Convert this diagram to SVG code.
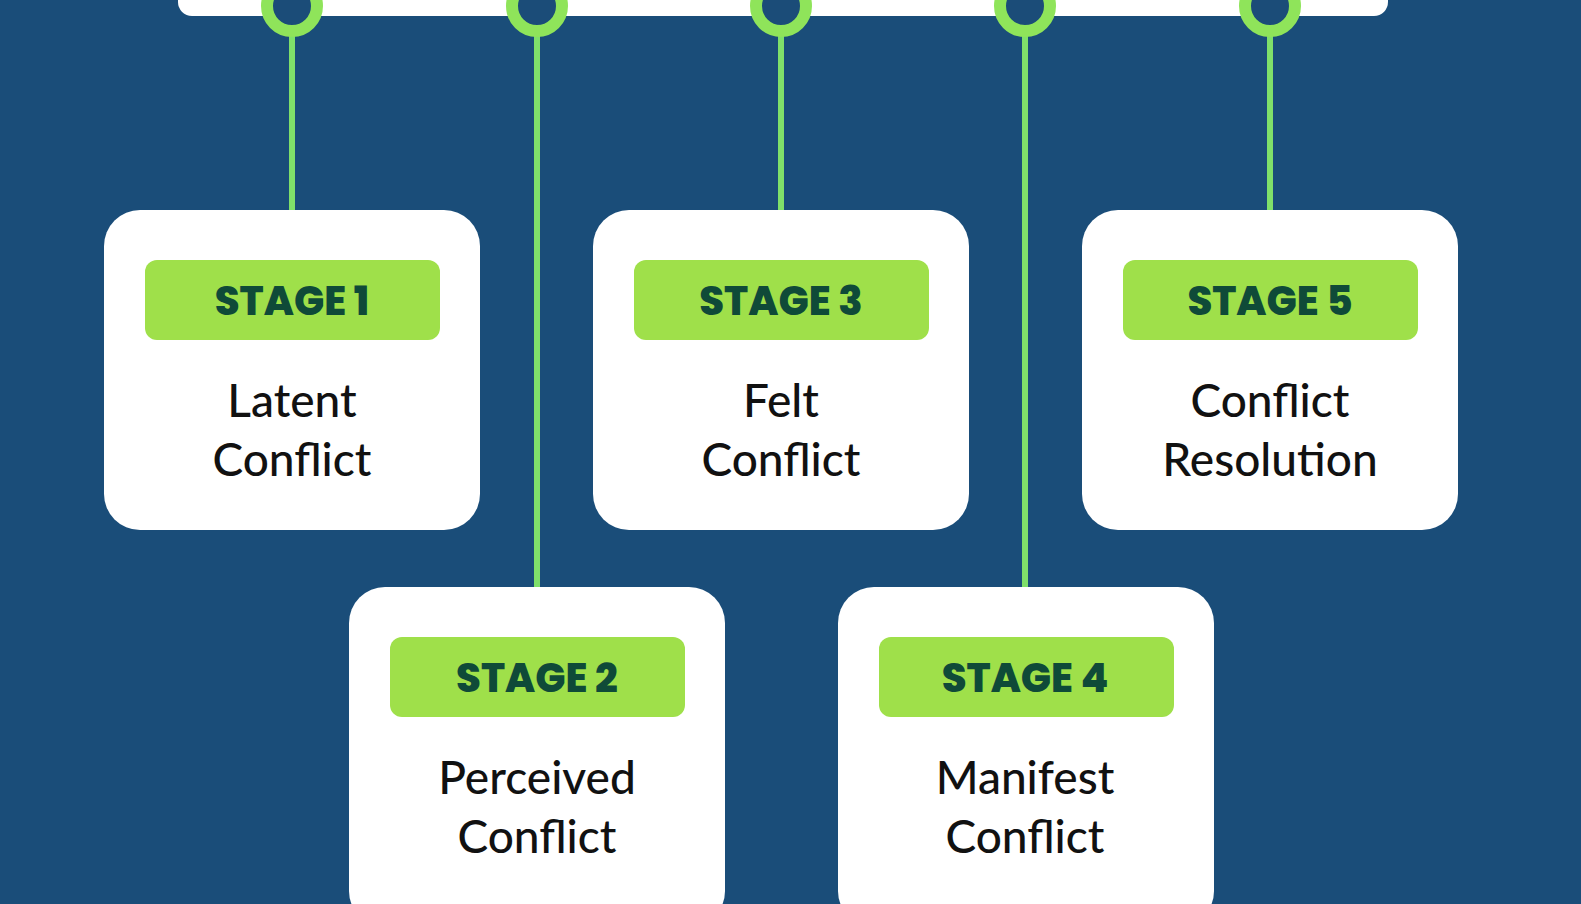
<svg xmlns="http://www.w3.org/2000/svg" width="1581" height="904" viewBox="0 0 1581 904">
<defs><style>
.box{fill:#fff}
.badge{fill:#9fe04a}
.bt{font-family:"Poppins","Lato","Open Sans",sans-serif;font-weight:800;font-size:40px;fill:#0f4a38;text-anchor:middle}
.t{font-family:"Lato","Open Sans",sans-serif;font-weight:500;font-size:46px;fill:#111;text-anchor:middle}
.ln{stroke:#7fe06a;stroke-width:6;fill:none}
.ring{fill:#1b4c78;stroke:#8fe45a;stroke-width:12}
</style></defs>
<rect width="1581" height="904" fill="#1a4d79"/>
<rect x="178" y="-40" width="1210" height="56" rx="14" fill="#fff"/>
<g id="connectors">
<line class="ln" x1="292" y1="30" x2="292" y2="212"/>
<line class="ln" x1="537" y1="30" x2="537" y2="589"/>
<line class="ln" x1="781" y1="30" x2="781" y2="212"/>
<line class="ln" x1="1025" y1="30" x2="1025" y2="589"/>
<line class="ln" x1="1270" y1="30" x2="1270" y2="212"/>
<circle class="ring" cx="292" cy="6" r="25"/>
<circle class="ring" cx="537" cy="6" r="25"/>
<circle class="ring" cx="781" cy="6" r="25"/>
<circle class="ring" cx="1025" cy="6" r="25"/>
<circle class="ring" cx="1270" cy="6" r="25"/>
</g>
<g id="stage1"><rect class="box" x="104" y="210" width="376" height="320" rx="36"/><rect class="badge" x="145" y="260" width="295" height="80" rx="12"/><text class="bt" x="292" y="315">STAGE 1</text><text class="t" x="292" y="417">Latent</text><text class="t" x="292" y="476">Conflict</text></g>
<g id="stage2"><rect class="box" x="349" y="587" width="376" height="340" rx="36"/><rect class="badge" x="390" y="637" width="295" height="80" rx="12"/><text class="bt" x="537" y="692">STAGE 2</text><text class="t" x="537" y="794">Perceived</text><text class="t" x="537" y="853">Conflict</text></g>
<g id="stage3"><rect class="box" x="593" y="210" width="376" height="320" rx="36"/><rect class="badge" x="634" y="260" width="295" height="80" rx="12"/><text class="bt" x="781" y="315">STAGE 3</text><text class="t" x="781" y="417">Felt</text><text class="t" x="781" y="476">Conflict</text></g>
<g id="stage4"><rect class="box" x="838" y="587" width="376" height="340" rx="36"/><rect class="badge" x="879" y="637" width="295" height="80" rx="12"/><text class="bt" x="1025" y="692">STAGE 4</text><text class="t" x="1025" y="794">Manifest</text><text class="t" x="1025" y="853">Conflict</text></g>
<g id="stage5"><rect class="box" x="1082" y="210" width="376" height="320" rx="36"/><rect class="badge" x="1123" y="260" width="295" height="80" rx="12"/><text class="bt" x="1270" y="315">STAGE 5</text><text class="t" x="1270" y="417">Conflict</text><text class="t" x="1270" y="476">Resolution</text></g>
</svg>
